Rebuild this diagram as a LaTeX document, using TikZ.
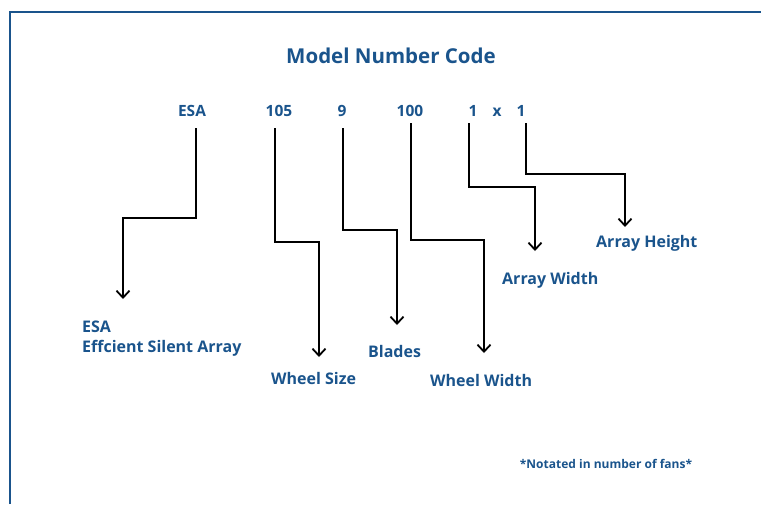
\documentclass[tikz,border=0pt]{standalone}
\usepackage{fontspec}
\setmainfont{Open Sans}
\usetikzlibrary{arrows.meta}
\definecolor{navy}{RGB}{26,84,140}
\tikzset{
  frame/.style={draw=navy, line width=2pt},
  codetxt/.style={font=\bfseries\fontsize{15.5}{18}\selectfont, text=navy, inner sep=0pt, anchor=base},
  lbl/.style={font=\bfseries\fontsize{16}{20}\selectfont, text=navy, inner sep=0pt, anchor=base west, align=left},
  conn/.style={draw=black, line width=1.8pt, -{Straight Barb[length=7pt,width=13pt,line width=1.8pt]}}
}
\begin{document}
\begin{tikzpicture}[x=1pt,y=-1pt]
\useasboundingbox (0,0) rectangle (761,504);
\draw[frame] (10,504) -- (10,12) -- (761,12);
\node[font=\bfseries\fontsize{20.5}{24}\selectfont, text=navy, inner sep=0pt, anchor=base] (title) at (391,63) {Model Number Code};
% code row
\node[codetxt] (cesa) at (192,116) {ESA};
\node[codetxt] (c105) at (279,116) {105};
\node[codetxt] (c9) at (342,116) {9};
\node[codetxt] (c100) at (410,116) {100};
\node[codetxt] (cw) at (473,116) {1};
\node[codetxt] (cx) at (497,116) {x};
\node[codetxt] (ch) at (521,116) {1};
% labels
\node[lbl] (lesa) at (82,352) {ESA\\Effcient Silent Array};
\node[lbl] (lsize) at (271,384) {Wheel Size};
\node[lbl] (lblades) at (368,357) {Blades};
\node[lbl] (lwidth) at (430,386) {Wheel Width};
\node[lbl] (larrw) at (502,284) {Array Width};
\node[lbl] (larrh) at (596,247) {Array Height};
\node[font=\bfseries\fontsize{12}{14}\selectfont, text=navy, inner sep=0pt, anchor=base] (note) at (606,468) {*Notated in number of fans*};
% connector coordinates
\coordinate (sesa) at (196,128); \coordinate (tesa) at (123,218); \coordinate (eesa) at (123,299);
\coordinate (s105) at (275,128); \coordinate (t105) at (319,242); \coordinate (e105) at (319,357);
\coordinate (s9) at (343,128); \coordinate (t9) at (397,230); \coordinate (e9) at (397,325);
\coordinate (s100) at (411,123); \coordinate (t100) at (484,240); \coordinate (e100) at (484,353);
\coordinate (sw) at (469,123); \coordinate (tw) at (535,187); \coordinate (ew) at (535,251);
\coordinate (sh) at (526,123); \coordinate (th) at (625,174); \coordinate (eh) at (625,227);
\draw[conn] (sesa) |- (tesa) -- (eesa);
\draw[conn] (s105) |- (t105) -- (e105);
\draw[conn] (s9) |- (t9) -- (e9);
\draw[conn] (s100) |- (t100) -- (e100);
\draw[conn] (sw) |- (tw) -- (ew);
\draw[conn] (sh) |- (th) -- (eh);
\end{tikzpicture}
\end{document}
